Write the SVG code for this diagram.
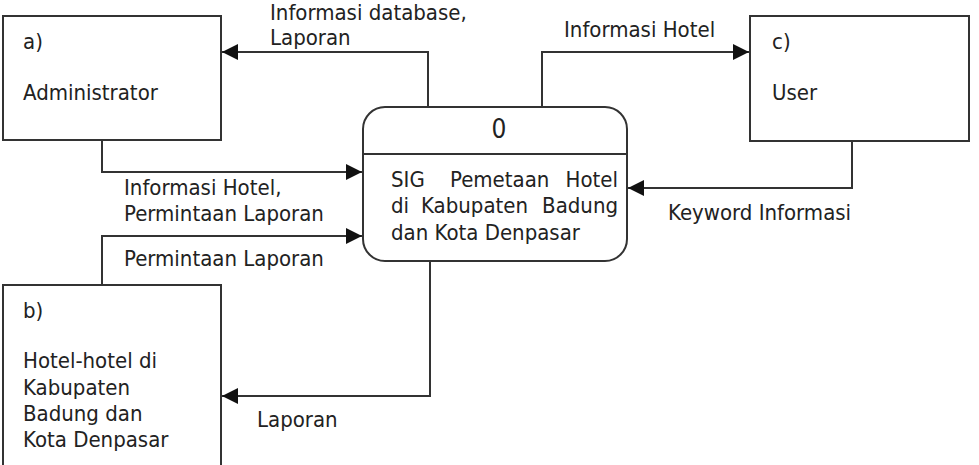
<svg xmlns="http://www.w3.org/2000/svg" width="979" height="465" viewBox="0 0 979 465">
<style>
.box{fill:#fff;stroke:#333;stroke-width:2}
.ln{fill:none;stroke:#333;stroke-width:2}
text{font-family:"DejaVu Sans Condensed","DejaVu Sans",sans-serif;font-stretch:condensed;font-size:22px;fill:#222}
.big{font-size:26px}
</style>
<defs>
<marker id="ah" viewBox="0 0 16 16" refX="16" refY="8" markerWidth="16" markerHeight="16" markerUnits="userSpaceOnUse" orient="auto">
<path d="M0,0 L16,8 L0,16 Z" fill="#111"/>
</marker>
</defs>
<rect width="979" height="465" fill="#fff"/>
<g id="connectors">
<path class="ln" d="M428,107 V52 H222" marker-end="url(#ah)"/>
<path class="ln" d="M542,107 V52 H749" marker-end="url(#ah)"/>
<path class="ln" d="M102,140 V172 H362" marker-end="url(#ah)"/>
<path class="ln" d="M102,285 V236 H362" marker-end="url(#ah)"/>
<path class="ln" d="M430,261 V396 H222" marker-end="url(#ah)"/>
<path class="ln" d="M852,141 V188 H628" marker-end="url(#ah)"/>
<text x="270" y="20">Informasi database,</text>
<text x="270" y="45">Laporan</text>
<text x="564" y="37">Informasi Hotel</text>
<text x="124" y="195">Informasi Hotel,</text>
<text x="124" y="221">Permintaan Laporan</text>
<text x="124" y="266">Permintaan Laporan</text>
<text x="257" y="427">Laporan</text>
<text x="668" y="220">Keyword Informasi</text>
</g>
<g id="administrator">
<rect class="box" x="3" y="16" width="218" height="124"/>
<text x="23" y="49">a)</text>
<text x="23" y="100">Administrator</text>
</g>
<g id="user">
<rect class="box" x="750" y="16" width="219" height="125"/>
<text x="772" y="49">c)</text>
<text x="772" y="100">User</text>
</g>
<g id="hotel">
<rect class="box" x="3" y="285" width="218" height="190"/>
<text x="23" y="318">b)</text>
<text x="23" y="368">Hotel-hotel di</text>
<text x="23" y="395">Kabupaten</text>
<text x="23" y="421">Badung dan</text>
<text x="23" y="447">Kota Denpasar</text>
</g>
<g id="process">
<rect class="box" x="363" y="107" width="264" height="154" rx="22" ry="22"/>
<line class="ln" x1="363" y1="154" x2="627" y2="154"/>
<text class="big" x="499" y="138" text-anchor="middle">0</text>
<text x="391" y="187">SIG</text>
<text x="450" y="187">Pemetaan</text>
<text x="618" y="187" text-anchor="end">Hotel</text>
<text x="391" y="213">di</text>
<text x="421" y="213">Kabupaten</text>
<text x="618" y="213" text-anchor="end">Badung</text>
<text x="391" y="240">dan Kota Denpasar</text>
</g>
</svg>
